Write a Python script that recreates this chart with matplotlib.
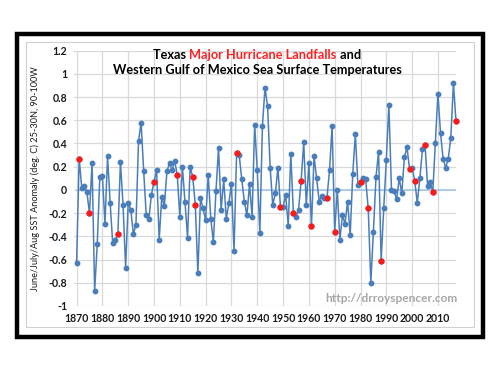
import matplotlib
matplotlib.use('Agg')
import matplotlib.pyplot as plt
from matplotlib.patches import Rectangle

# June/July/Aug SST anomaly, western Gulf of Mexico, 1870-2017
years = list(range(1870, 2018))
sst = [-0.63, 0.27, 0.02, 0.03, -0.02, -0.20, 0.23, -0.87, -0.47, 0.11,
       0.12, -0.29, 0.29, -0.11, -0.46, -0.43, -0.38, 0.24, -0.13, -0.67,
       -0.11, -0.17, -0.38, -0.30, 0.42, 0.58, 0.16, -0.22, -0.25, -0.04,
       0.07, 0.17, -0.43, -0.06, -0.14, 0.16, 0.23, 0.17, 0.25, 0.13,
       -0.23, 0.20, -0.10, -0.41, 0.20, 0.11, -0.13, -0.72, -0.07, -0.16,
       -0.26, 0.13, -0.25, -0.45, -0.01, 0.36, -0.17, 0.09, -0.25, -0.11,
       0.05, -0.53, 0.32, 0.30, 0.09, -0.10, -0.22, 0.05, -0.23, 0.56,
       0.17, -0.37, 0.55, 0.88, 0.72, 0.19, -0.13, -0.03, 0.19, -0.15,
       -0.15, -0.04, -0.31, 0.31, -0.20, -0.23, -0.17, 0.08, 0.41, -0.13,
       0.23, -0.31, 0.29, 0.10, -0.10, -0.05, -0.07, -0.07, 0.17, 0.55,
       -0.36, 0.00, -0.43, -0.22, -0.29, -0.10, -0.39, 0.14, 0.48, 0.04,
       0.07, 0.10, 0.09, -0.16, -0.80, -0.36, 0.11, 0.33, -0.61, -0.16,
       0.26, 0.73, 0.00, -0.01, -0.08, 0.10, -0.03, 0.28, 0.37, 0.18,
       0.19, 0.08, -0.11, 0.10, 0.35, 0.39, 0.03, 0.07, -0.02, 0.40,
       0.83, 0.49, 0.27, 0.19, 0.27, 0.45, 0.92, 0.59]

# years with a Texas major hurricane landfall
landfall_years = [1871, 1875, 1886, 1900, 1909, 1915, 1916, 1932, 1949, 1954,
                  1957, 1961, 1967, 1970, 1980, 1983, 1988, 1999, 2001, 2005,
                  2008, 2017]

yticks = [1.2, 1, 0.8, 0.6, 0.4, 0.2, 0, -0.2, -0.4, -0.6, -0.8, -1]
ytick_labels = ['1.2', '1', '0.8', '0.6', '0.4', '0.2', '0',
                '-0.2', '-0.4', '-0.6', '-0.8', '-1']
xticks = list(range(1870, 2011, 10))

font = 'Lato'
blue = '#4a7ebb'

fig = plt.figure(figsize=(5, 3.75), dpi=100)
fig.patches.append(Rectangle((0.034, 0.102), 0.932, 0.808, transform=fig.transFigure,
                             fill=False, edgecolor='black', linewidth=3.2))
fig.patches.append(Rectangle((0.052, 0.128), 0.896, 0.76, transform=fig.transFigure,
                             fill=False, edgecolor='#d0d0d0', linewidth=0.8))

ax = fig.add_axes([0.148, 0.184, 0.764, 0.681])
ax.set_xlim(1869, 2017)
ax.set_ylim(-1, 1.2)
for s in ax.spines.values():
    s.set_visible(False)
ax.set_xticks(xticks)
ax.set_yticks(yticks)
ax.set_yticklabels(ytick_labels)
ax.tick_params(length=0, pad=5, labelsize=7.6, labelcolor='#1a1a1a')
for lab in ax.get_xticklabels() + ax.get_yticklabels():
    lab.set_family(font)
    lab.set_fontweight('bold')
ax.grid(True, color='#d9d9d9', linewidth=0.9)
ax.set_axisbelow(True)

ax.plot([years[0], years[-1]], [0, 0], color='#9dc3e6', linewidth=1.1)
ax.plot(years, sst, color=blue, linewidth=1.1, marker='o', markersize=3.2,
        markerfacecolor=blue, markeredgecolor=blue, clip_on=False)
red_vals = [sst[years.index(y)] for y in landfall_years]
ax.plot(landfall_years, red_vals, linestyle='none', marker='o', markersize=3.5,
        color='#ff1a1a', clip_on=False, zorder=5)

ax.set_ylabel('June/July/Aug SST Anomaly (deg. C) 25-30N, 90-100W',
              family=font, fontsize=6.6, color='#1a1a1a', labelpad=6)

ax.text(1.003, 0.03, 'http://drroyspencer.com', transform=ax.transAxes,
        ha='right', va='center', family=font, fontweight='bold', fontsize=8.6,
        color='#a6a6a6')

# title, first line has a red middle part
fig.canvas.draw()
r = fig.canvas.get_renderer()
parts = [('Texas ', 'black'), ('Major Hurricane Landfalls', '#ff2020'), (' and', 'black')]
tx = []
for p, c in parts:
    tx.append(fig.text(0, 0.853, p, family=font, fontweight='bold', fontsize=9.2,
                       color=c, ha='left', va='center'))
widths = [t.get_window_extent(r).width / fig.bbox.width for t in tx]
x = 0.514 - sum(widths) / 2
for t, w in zip(tx, widths):
    t.set_x(x)
    x += w
fig.text(0.514, 0.813, 'Western Gulf of Mexico Sea Surface Temperatures',
         family=font, fontweight='bold', fontsize=9.2, color='black',
         ha='center', va='center')

fig.savefig('out.png', dpi=100)
